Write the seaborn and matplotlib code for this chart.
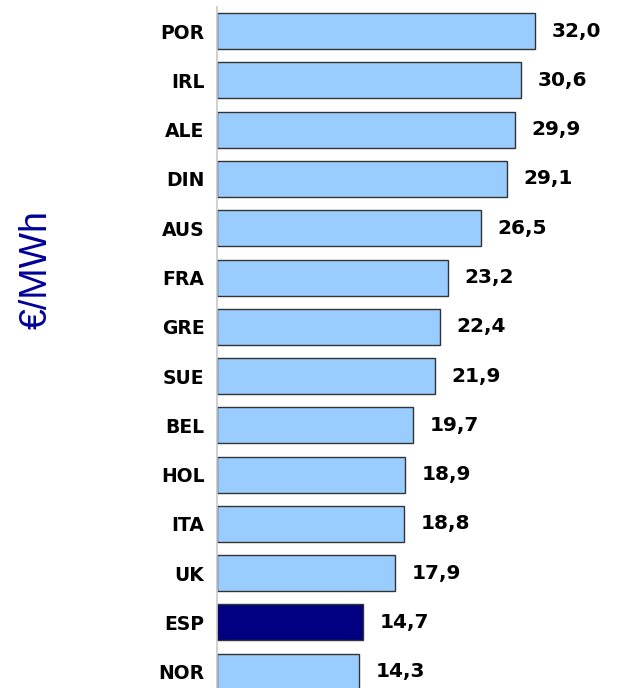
import matplotlib
matplotlib.use('Agg')
import matplotlib.pyplot as plt
import pandas as pd
import seaborn as sns

paises = ['POR', 'IRL', 'ALE', 'DIN', 'AUS', 'FRA', 'GRE', 'SUE',
          'BEL', 'HOL', 'ITA', 'UK', 'ESP', 'NOR']
precios = [32.0, 30.6, 29.9, 29.1, 26.5, 23.2, 22.4, 21.9,
           19.7, 18.9, 18.8, 17.9, 14.7, 14.3]
destacado = 'ESP'


def main():
    sns.set_style('white')
    plt.rcParams['font.family'] = ['DejaVu Sans']

    df = pd.DataFrame({'pais': paises, 'precio': precios})
    colores = {p: ('#000080' if p == destacado else '#99CCFF') for p in paises}

    fig = plt.figure(figsize=(6.17, 6.88), dpi=100)
    ax = fig.add_axes([217 / 617, 0.0, 398 / 617, 1 - 7 / 688])
    sns.barplot(data=df, x='precio', y='pais', hue='pais', palette=colores,
                order=paises, width=0.73, edgecolor='#333333', linewidth=1,
                saturation=1, legend=False, ax=ax)

    for i, v in enumerate(precios):
        ax.annotate(f'{v:.1f}'.replace('.', ','), (v, i), xytext=(12, 0),
                    textcoords='offset points', va='center', ha='left',
                    fontsize=14.5, fontweight='bold', color='black')

    ax.set_xlim(0, 40)
    ax.set_ylim(13.33, -0.49)
    ax.set_xlabel('')
    ax.set_ylabel('')
    ax.xaxis.set_visible(False)
    ax.tick_params(axis='y', length=0, pad=9, labelsize=13.5,
                   labelcolor='black')
    for lab in ax.get_yticklabels():
        lab.set_fontweight('bold')
    for s in ['top', 'right', 'bottom']:
        ax.spines[s].set_visible(False)
    ax.spines['left'].set_color('#c8c8c8')
    ax.spines['left'].set_linewidth(1.2)

    fig.text(37 / 617, 1 - 270 / 688, '€/MWh', rotation=90, ha='center',
             va='center', fontsize=27, color='#000099',
             family=['Liberation Sans', 'DejaVu Sans'])

    plt.savefig('out.png', dpi=100)


if __name__ == '__main__':
    main()
